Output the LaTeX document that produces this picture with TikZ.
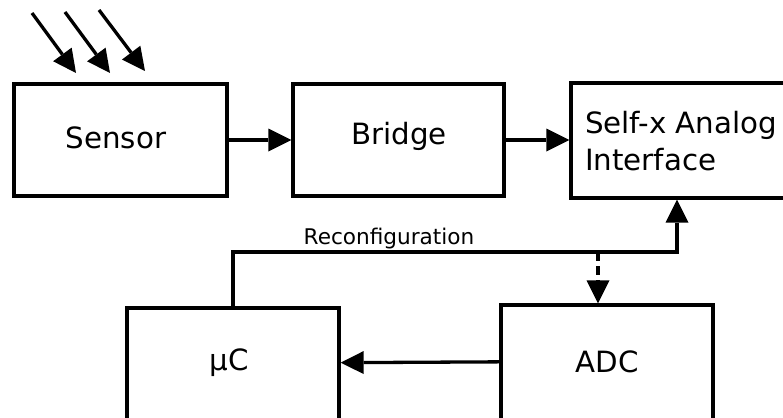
\documentclass[tikz,border=0pt]{standalone}
\usepackage{fontspec}
\setmainfont{DejaVu Sans}
\usetikzlibrary{arrows.meta}

\tikzset{
  block/.style={draw, line width=3.3pt, line join=miter, inner sep=0pt,
                minimum width=212pt, minimum height=112pt},
  caption/.style={font=\fontsize{29.3}{37}\selectfont, inner sep=0pt, anchor=base},
  smallcaption/.style={font=\fontsize{21.6}{26}\selectfont, inner sep=0pt, anchor=base},
  conn/.style={line width=3.3pt, line join=miter},
  flow/.style={-{Triangle[length=23pt,width=23pt,line width=0pt]}},
}

\begin{document}
\begin{tikzpicture}[x=1pt, y=-1pt]
  \path[use as bounding box] (0,0) rectangle (783,417);
  \clip (0,0) rectangle (783,417);

  % blocks
  \node[block, minimum width=213pt] (sensor) at (120.5,140) {};
  \node[block, minimum width=211pt] (bridge) at (398.5,140) {};
  \node[block, minimum width=220pt, minimum height=115pt] (selfx) at (681,140.5) {};
  \node[block, minimum height=200pt] (mu) at (233,408) {};
  \node[block, minimum height=200pt] (adc) at (607,405) {};

  % block captions
  \node[caption] (sensortext) at (116,148) {Sensor};
  \node[caption] (bridgetext) at (399,144) {Bridge};
  \node[caption, anchor=base west, align=left] (selfxtext) at (585,170) {Self-x Analog\\Interface};
  \node[caption] (mutext) at (229,370.5) {μC};
  \node[caption] (adctext) at (607,372.5) {ADC};
  \node[smallcaption] (cfgtext) at (389,244) {Reconfiguration};

  % incoming light
  \coordinate (r1s) at (32,13);  \coordinate (r1e) at (76,73);
  \coordinate (r2s) at (65,12);  \coordinate (r2e) at (110,73);
  \coordinate (r3s) at (99,10);  \coordinate (r3e) at (145,71);
  \draw[conn, flow] (r1s) -- (r1e);
  \draw[conn, flow] (r2s) -- (r2e);
  \draw[conn, flow] (r3s) -- (r3e);

  % signal chain
  \draw[conn, flow] (sensor.east) -- (bridge.west);
  \draw[conn, flow] (bridge.east) -- (selfx.west |- bridge.east);

  % reconfiguration bus: from the controller up into the analog interface,
  % with a dashed branch down to the ADC
  \coordinate (cfgin) at (677,0);
  \coordinate (adctap) at (598,252);
  \draw[conn, flow] (mu.north) |- (adctap) -| (cfgin |- selfx.south);
  \draw[conn, flow, dash pattern=on 9pt off 5pt] (adctap) -- (adctap |- adc.north);

  % converted data
  \draw[conn, flow] (adc.west |- adctext) -- (mu.east |- mutext);
\end{tikzpicture}
\end{document}
